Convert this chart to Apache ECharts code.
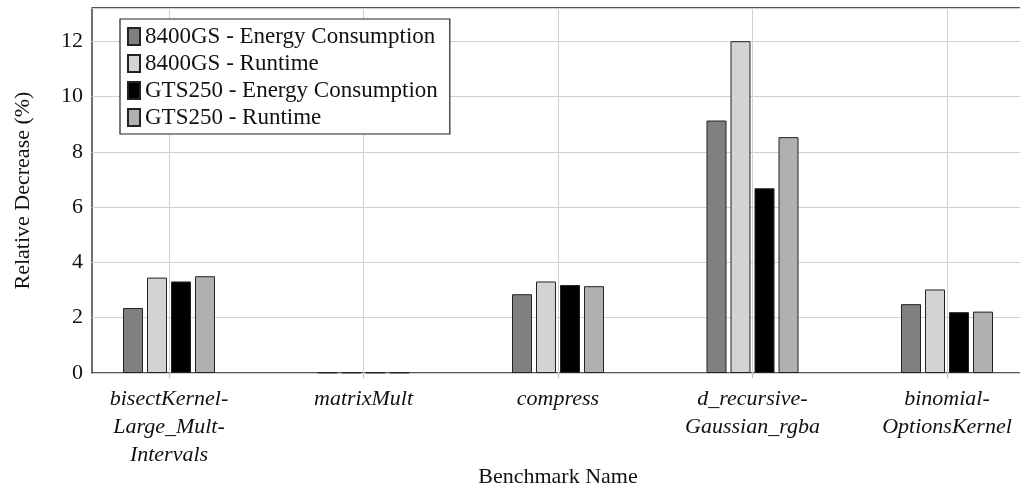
<!DOCTYPE html>
<html>
<head>
<meta charset="utf-8">
<script src="https://cdn.jsdelivr.net/npm/echarts@6/dist/echarts.min.js"></script>
<style>html,body{margin:0;padding:0;background:#fff;}#c{width:1020px;height:489px;}</style>
</head>
<body>
<div id="c"></div>
<script>
const categories = ['bisectKernel-\nLarge_Mult-\nIntervals', 'matrixMult', 'compress', 'd_recursive-\nGaussian_rgba', 'binomial-\nOptionsKernel'];
const seriesNames = ['8400GS - Energy Consumption', '8400GS - Runtime', 'GTS250 - Energy Consumption', 'GTS250 - Runtime'];
const gs8400Energy = [2.35, 0.02, 2.85, 9.13, 2.49];
const gs8400Runtime = [3.45, 0.02, 3.31, 12.0, 3.02];
const gts250Energy = [3.31, 0.02, 3.18, 6.68, 2.20];
const gts250Runtime = [3.50, 0.02, 3.14, 8.53, 2.22];
const yTicks = [0, 2, 4, 6, 8, 10, 12];

const seriesData = [gs8400Energy, gs8400Runtime, gts250Energy, gts250Runtime];
const colors = ['#808080', '#d3d3d3', '#000000', '#b0b0b0'];
const FONT = '"Liberation Serif", "DejaVu Serif", serif';
const YMAX = 13.2;

const chart = echarts.init(document.getElementById('c'), null, {renderer: 'canvas'});
chart.setOption({
  animation: false,
  backgroundColor: '#fff',
  grid: [
    {left: 92, right: -2, top: 8, bottom: 116, show: true, borderColor: '#222', borderWidth: 1.3, backgroundColor: 'transparent', outerBoundsMode: 'none', containLabel: false},
    {left: 71.75, width: 972.5, top: 8, bottom: 116, outerBoundsMode: 'none', containLabel: false}
  ],
  legend: {
    orient: 'vertical', left: 120, top: 19,
    data: seriesNames,
    backgroundColor: '#fff', borderColor: '#222', borderWidth: 1.2,
    padding: [6, 12, 5, 7], itemGap: 4, itemWidth: 12, itemHeight: 17,
    icon: 'rect',
    textStyle: {fontFamily: FONT, fontSize: 23, color: '#111'},
    z: 10
  },
  xAxis: [
    {gridIndex: 0, type: 'value', min: 0, max: 1, show: false},
    {gridIndex: 1, type: 'category', data: categories, position: 'bottom',
      axisLine: {show: false},
      axisTick: {show: true, alignWithLabel: true, length: 5, lineStyle: {color: '#bbb'}},
      axisLabel: {fontFamily: FONT, fontSize: 22, fontStyle: 'italic', color: '#111', margin: 12, lineHeight: 28, interval: 0},
      splitLine: {show: false},
      name: 'Benchmark Name', nameLocation: 'middle', nameGap: 93, nameMoveOverlap: false,
      nameTextStyle: {fontFamily: FONT, fontSize: 22, color: '#111'}
    },
    {gridIndex: 1, type: 'category', data: categories, position: 'bottom',
      axisLine: {show: false},
      axisTick: {show: true, inside: true, alignWithLabel: true, length: 365, lineStyle: {color: '#d0d0d0', width: 1}},
      axisLabel: {show: false},
      splitLine: {show: false}
    }
  ],
  yAxis: [
    {gridIndex: 0, type: 'value', min: 0, max: YMAX, interval: 2,
      axisLine: {show: false},
      axisTick: {show: false},
      axisLabel: {fontFamily: FONT, fontSize: 22, color: '#111', margin: 9,
        customValues: yTicks, formatter: v => String(v)},
      splitLine: {show: true, lineStyle: {color: '#d0d0d0', width: 1}},
      name: 'Relative Decrease (%)', nameLocation: 'middle', nameGap: 58, nameMoveOverlap: false,
      nameTextStyle: {fontFamily: FONT, fontSize: 22, color: '#111'}
    },
    {gridIndex: 1, type: 'value', min: 0, max: YMAX, show: false, splitLine: {show: false}}
  ],
  series: seriesNames.map((name, i) => ({
    name: name, type: 'bar', xAxisIndex: 1, yAxisIndex: 1,
    data: seriesData[i], barWidth: 20, barGap: '20%',
    itemStyle: {color: colors[i], borderColor: '#222', borderWidth: 1},
    z: 3
  }))
});
</script>
</body>
</html>
